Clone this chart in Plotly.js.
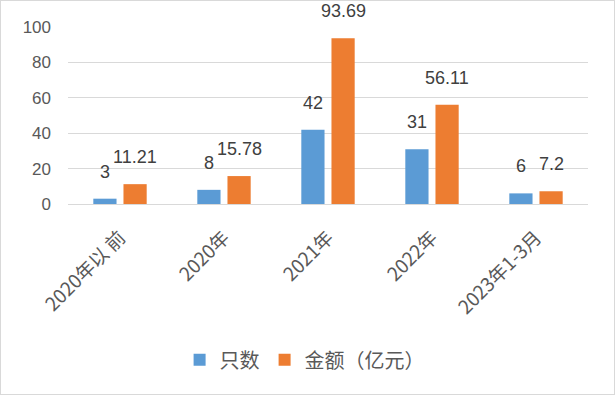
<!DOCTYPE html>
<html><head><meta charset="utf-8">
<script src="https://cdn.plot.ly/plotly-3.0.1.min.js"></script>
<style>html,body{margin:0;padding:0;background:#fff}#c{width:615px;height:395px;box-sizing:border-box;border:1px solid #d9d9d9}</style>
</head><body><div id="c"></div>
<script>
const categories = ["2020年以 前", "2020年", "2021年", "2022年", "2023年1-3月"];
const countValues = [3, 8, 42, 31, 6];
const amountValues = [11.21, 15.78, 93.69, 56.11, 7.2];
const seriesNames = ["只数", "金额（亿元）"];
const yTicks = [0, 20, 40, 60, 80, 100];

const numFont = '"Liberation Sans", "Noto Sans CJK SC", sans-serif';
const cjkFont = '"Noto Sans CJK SC", "Liberation Sans", sans-serif';
const colors = ['#5B9BD5', '#ED7D31'];
const traces = [
  {type:'bar', x:categories, y:countValues, name:seriesNames[0], marker:{color:colors[0]}},
  {type:'bar', x:categories, y:amountValues, name:seriesNames[1], marker:{color:colors[1]}}
];
const annotations = [];
[countValues, amountValues].forEach((vals, s) => {
  vals.forEach((v, i) => {
    annotations.push({x:categories[i], y:v, xref:'x', yref:'y', text:String(v), showarrow:false,
      xanchor:'center', yanchor:'middle', xshift: s === 0 ? -15 : 15, yshift:27,
      font:{family:numFont, size:18, color:'#404040'}});
  });
});
const layout = {
  width:613, height:393,
  margin:{l:67, r:26, t:26, b:190, autoexpand:false},
  paper_bgcolor:'#fff', plot_bgcolor:'#fff',
  font:{family:numFont, color:'#595959', size:15},
  barmode:'group', bargap:0.42, bargroupgap:0.23,
  showlegend:true,
  annotations: annotations,
  legend:{orientation:'h', x:0.455, xanchor:'center', y:-0.88, yanchor:'middle', font:{family:cjkFont, size:20,color:'#595959'}, itemwidth:30},
  xaxis:{tickangle:-45, showgrid:false, showline:true, linecolor:'#d9d9d9', ticks:'', tickfont:{family:cjkFont, size:19,color:'#595959'}, ticklabelstandoff:14},
  yaxis:{range:[0,100], tickvals:yTicks, showgrid:true, gridcolor:'#d9d9d9', zeroline:false, showline:false, ticks:'', tickfont:{size:17,color:'#595959'}, ticklabelstandoff:16}
};
Plotly.newPlot('c', traces, layout, {displayModeBar:false, staticPlot:true});
</script></body></html>
